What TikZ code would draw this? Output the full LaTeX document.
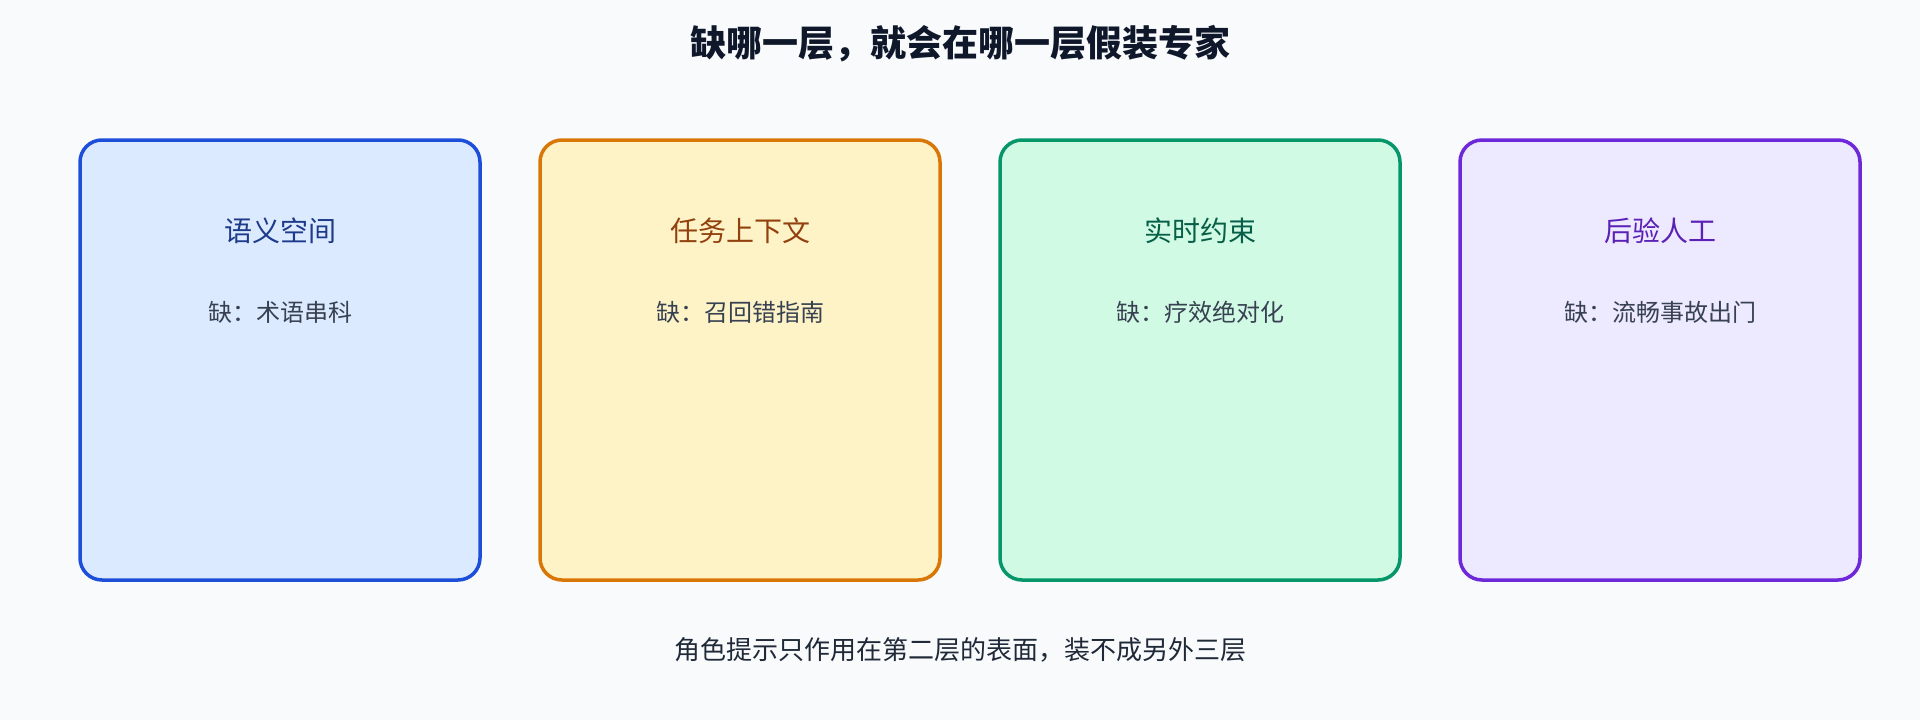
\documentclass[tikz,border=0pt]{standalone}
\usepackage{fontspec}
\setmainfont{Noto Sans CJK SC}
\definecolor{bg}{HTML}{F8FAFC}
\definecolor{ink}{HTML}{0F172A}
\definecolor{sub}{HTML}{374151}
\definecolor{foot}{HTML}{1F2937}
\definecolor{fA}{HTML}{DBEAFE}\definecolor{dA}{HTML}{1D4ED8}\definecolor{tA}{HTML}{1E3A8A}
\definecolor{fB}{HTML}{FEF3C7}\definecolor{dB}{HTML}{D97706}\definecolor{tB}{HTML}{92400E}
\definecolor{fC}{HTML}{D1FAE5}\definecolor{dC}{HTML}{059669}\definecolor{tC}{HTML}{065F46}
\definecolor{fD}{HTML}{EDE9FE}\definecolor{dD}{HTML}{6D28D9}\definecolor{tD}{HTML}{5B21B6}
\begin{document}
\begin{tikzpicture}[x=1pt,y=-1pt,
  card/.style={draw, line width=3.5pt, rounded corners=22pt, minimum width=400pt, minimum height=440pt, inner sep=0pt},
  cardtitle/.style={inner sep=0pt, font=\fontsize{28}{34}\selectfont},
  cardsub/.style={inner sep=0pt, text=sub, font=\fontsize{24}{30}\selectfont},
]
\fill[bg] (0,0) rectangle (1920,720);
\useasboundingbox (0,0) rectangle (1920,720);
\node[inner sep=0pt, text=ink, font=\fontsize{36}{42}\selectfont\bfseries] (title) at (960,44) {缺哪一层，就会在哪一层假装专家};
\node[card, fill=fA, draw=dA] (b1) at (280,360) {};
\node[card, fill=fB, draw=dB] (b2) at (740,360) {};
\node[card, fill=fC, draw=dC] (b3) at (1200,360) {};
\node[card, fill=fD, draw=dD] (b4) at (1660,360) {};
\node[cardtitle, text=tA] (t1) at (280,231) {语义空间};
\node[cardtitle, text=tB] (t2) at (740,231) {任务上下文};
\node[cardtitle, text=tC] (t3) at (1200,231) {实时约束};
\node[cardtitle, text=tD] (t4) at (1660,231) {后验人工};
\node[cardsub] (s1) at (280,312) {缺：术语串科};
\node[cardsub] (s2) at (740,312) {缺：召回错指南};
\node[cardsub] (s3) at (1200,312) {缺：疗效绝对化};
\node[cardsub] (s4) at (1660,312) {缺：流畅事故出门};
\node[inner sep=0pt, text=foot, font=\fontsize{26}{32}\selectfont] (foot) at (960,650) {角色提示只作用在第二层的表面，装不成另外三层};
\end{tikzpicture}
\end{document}
